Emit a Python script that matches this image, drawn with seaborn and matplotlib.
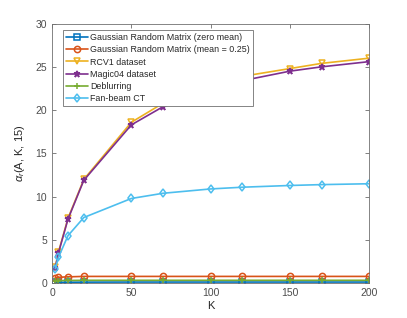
import matplotlib
matplotlib.use("Agg")
import matplotlib.pyplot as plt
import seaborn as sns
import pandas as pd

# Data
K = [2, 4, 10, 20, 50, 70, 100, 120, 150, 170, 200]
gauss_zero = [0.1, 0.12, 0.13, 0.14, 0.15, 0.15, 0.15, 0.15, 0.15, 0.15, 0.15]
gauss_mean = [0.6, 0.7, 0.75, 0.8, 0.8, 0.8, 0.8, 0.8, 0.8, 0.8, 0.8]
rcv1 = [1.9, 3.6, 7.5, 12.0, 18.6, 20.8, 22.6, 23.9, 24.8, 25.4, 26.0]
magic04 = [1.8, 3.5, 7.4, 11.9, 18.3, 20.4, 22.1, 23.4, 24.5, 25.0, 25.6]
deblur = [0.3, 0.32, 0.33, 0.35, 0.35, 0.35, 0.35, 0.35, 0.35, 0.35, 0.35]
fanbeam = [1.7, 3.0, 5.5, 7.6, 9.8, 10.4, 10.9, 11.1, 11.3, 11.4, 11.5]

names = ["Gaussian Random Matrix (zero mean)",
         "Gaussian Random Matrix (mean = 0.25)",
         "RCV1 dataset", "Magic04 dataset", "Deblurring", "Fan-beam CT"]
series = [gauss_zero, gauss_mean, rcv1, magic04, deblur, fanbeam]
colors = ["#0072BD", "#D95319", "#EDB120", "#7E2F8E", "#77AC30", "#4DBEEE"]
markers = ["s", "o", "v", "*", "+", "d"]

sns.set_style("white")
plt.rcParams["font.family"] = ["Liberation Sans", "DejaVu Sans"]
plt.rcParams["mathtext.fontset"] = "custom"
plt.rcParams["mathtext.rm"] = "Liberation Sans"
plt.rcParams["mathtext.it"] = "Liberation Sans:italic"

fig = plt.figure(figsize=(4.07, 3.18), dpi=100)
ax = fig.add_axes([0.128, 0.109, 0.779, 0.817])

for name, vals, c, m in zip(names, series, colors, markers):
    d = pd.DataFrame({"K": K, "val": vals})
    sns.lineplot(data=d, x="K", y="val", color=c, marker=m, label=name,
                 markersize=4.5, linewidth=1.2, markeredgecolor=c,
                 markerfacecolor="none" if m != "*" else c,
                 markeredgewidth=1.1, ax=ax)

gray = "#4d4d4d"
ax.set_xlim(0, 200)
ax.set_ylim(0, 30)
ax.set_xticks([0, 50, 100, 150, 200])
ax.set_yticks([0, 5, 10, 15, 20, 25, 30])
ax.set_xlabel("K", fontsize=8, color="#262626", labelpad=2)
ax.set_ylabel(r"$\alpha_r$(A, K, 15)", fontsize=8, color="#262626", labelpad=6)
ax.tick_params(direction="in", length=3, labelsize=7.5, colors=gray,
               top=True, right=True, bottom=True, left=True, width=0.5)
for sp in ax.spines.values():
    sp.set_color("#707070")
    sp.set_linewidth(0.6)

leg = ax.legend(loc="upper left", fontsize=6.4, frameon=True, fancybox=False,
                framealpha=1, edgecolor="#707070", borderpad=0.35,
                labelspacing=0.36, handlelength=2.4, handletextpad=0.3,
                borderaxespad=0, bbox_to_anchor=(0.035, 0.975))
leg.get_frame().set_linewidth(0.6)
for t in leg.get_texts():
    t.set_color("#262626")

fig.savefig("out.png", dpi=100)
